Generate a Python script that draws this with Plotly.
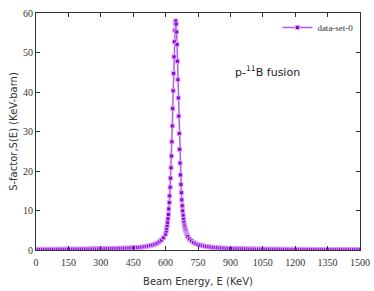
import plotly.graph_objects as go

# Beam energy (keV) and S-factor (keV-barn)
energy = [0, 10, 20, 30, 40, 50, 60, 70, 80, 90,
          100, 110, 120, 130, 140, 150, 160, 170, 180, 190,
          200, 210, 220, 230, 240, 250, 260, 270, 280, 290,
          300, 310, 320, 330, 340, 350, 360, 370, 380, 390,
          400, 410, 420, 430, 440, 450, 460, 470, 480, 490,
          500, 510, 520, 530, 540, 550, 560, 570, 580, 590,
          600, 603, 605, 607, 609, 611, 613, 615, 617, 619,
          621, 623, 625, 627, 629, 631, 633, 635, 637, 639,
          641, 643, 645, 647, 649, 651, 653, 655, 657, 659,
          661, 663, 665, 667, 669, 671, 673, 675, 677, 679,
          681, 683, 685, 687, 689, 691, 693, 695, 697, 699,
          701, 703, 710, 720, 730, 740, 750, 760, 770, 780,
          790, 800, 810, 820, 830, 840, 850, 860, 870, 880,
          890, 900, 910, 920, 930, 940, 950, 960, 970, 980,
          990, 1000, 1010, 1020, 1030, 1040, 1050, 1060, 1070, 1080,
          1090, 1100, 1110, 1120, 1130, 1140, 1150, 1160, 1170, 1180,
          1190, 1200, 1210, 1220, 1230, 1240, 1250, 1260, 1270, 1280,
          1290, 1300, 1310, 1320, 1330, 1340, 1350, 1360, 1370, 1380,
          1390, 1400, 1410, 1420, 1430, 1440, 1450, 1460, 1470, 1480,
          1490, 1500]
s_factor = [0.15, 0.15, 0.16, 0.16, 0.16, 0.17, 0.17, 0.17, 0.18, 0.18,
            0.19, 0.19, 0.20, 0.20, 0.20, 0.21, 0.21, 0.22, 0.23, 0.23,
            0.24, 0.25, 0.25, 0.26, 0.26, 0.27, 0.28, 0.29, 0.29, 0.30,
            0.31, 0.32, 0.33, 0.34, 0.36, 0.37, 0.39, 0.40, 0.42, 0.44,
            0.45, 0.47, 0.49, 0.51, 0.53, 0.55, 0.58, 0.62, 0.67, 0.73,
            0.80, 0.90, 1.00, 1.12, 1.25, 1.45, 1.70, 2.05, 2.50, 3.10,
            4.0, 4.8, 5.5, 6.2, 7.0, 7.9, 9.0, 10.4, 12.0, 13.7,
            15.9, 18.2, 20.8, 23.8, 27.4, 31.4, 35.8, 40.3, 44.7, 48.9,
            52.7, 55.6, 57.4, 58.0, 57.2, 55.2, 52.0, 47.8, 43.1, 38.5,
            33.9, 29.5, 25.5, 22.0, 19.0, 16.6, 14.5, 12.7, 11.2, 9.9,
            8.8, 7.8, 7.0, 6.3, 5.8, 5.3, 4.9, 4.5, 4.2, 3.9,
            3.6, 3.4, 2.8, 2.3, 1.9, 1.6, 1.4, 1.25, 1.10, 0.98,
            0.88, 0.80, 0.73, 0.67, 0.62, 0.57, 0.53, 0.50, 0.47, 0.44,
            0.42, 0.40, 0.38, 0.36, 0.34, 0.33, 0.31, 0.30, 0.29, 0.28,
            0.27, 0.26, 0.25, 0.25, 0.24, 0.24, 0.23, 0.23, 0.22, 0.22,
            0.21, 0.21, 0.20, 0.20, 0.19, 0.19, 0.18, 0.18, 0.17, 0.17,
            0.17, 0.16, 0.16, 0.16, 0.15, 0.15, 0.15, 0.14, 0.14, 0.14,
            0.13, 0.13, 0.13, 0.13, 0.12, 0.12, 0.12, 0.12, 0.11, 0.11,
            0.11, 0.11, 0.10, 0.10, 0.10, 0.10, 0.10, 0.10, 0.09, 0.09,
            0.09, 0.09]

x_ticks = [0, 150, 300, 450, 600, 750, 900, 1050, 1200, 1350, 1500]
y_ticks = [0, 10, 20, 30, 40, 50, 60]
series_name = "data-set-0"

fig = go.Figure()
fig.add_trace(go.Scatter(
    x=energy, y=s_factor, mode="lines+markers", name=series_name,
    line=dict(color="#b45ae8", width=1.5),
    marker=dict(symbol="square", size=4, color="#8f00d6",
                line=dict(color="#d9a6f5", width=1)),
    showlegend=True,
))

axis_common = dict(
    showline=True, linecolor="#333333", linewidth=1, mirror="ticks",
    ticks="inside", ticklen=4, tickcolor="#333333",
    showgrid=False, zeroline=False, automargin=False,
    ticklabeloverflow="allow",
    tickfont=dict(family="Liberation Serif", size=10, color="#333333"),
)

fig.update_layout(
    width=374, height=291,
    margin=dict(l=36, r=14, t=13, b=41),
    paper_bgcolor="white", plot_bgcolor="white",
    hovermode=False,
    xaxis=dict(range=[0, 1500], tickvals=x_ticks, ticklabelstandoff=3,
               title=dict(text="Beam Energy, E (KeV)", standoff=10,
                          font=dict(family="DejaVu Sans", size=10, color="#333333")),
               **axis_common),
    yaxis=dict(range=[0, 60], tickvals=y_ticks,
               title=dict(text="S-factor,S(E) (KeV-barn)", standoff=3,
                          font=dict(family="DejaVu Sans", size=10, color="#333333")),
               **axis_common),
    legend=dict(x=0.995, y=1.0, xanchor="right", yanchor="top",
                bgcolor="rgba(0,0,0,0)", itemwidth=30,
                font=dict(family="Liberation Serif", size=9, color="#333333")),
    showlegend=True,
    annotations=[
        dict(text="p-<sup>11</sup>B fusion", xref="paper", yref="paper", x=0.715, y=0.755,
             xanchor="center", yanchor="middle", showarrow=False,
             font=dict(family="DejaVu Sans", size=11, color="#222222")),
    ],
)

fig.write_html("out.html",
               config={"displayModeBar": False},
               post_script="document.body.style.margin='0';document.body.style.overflow='hidden';")
